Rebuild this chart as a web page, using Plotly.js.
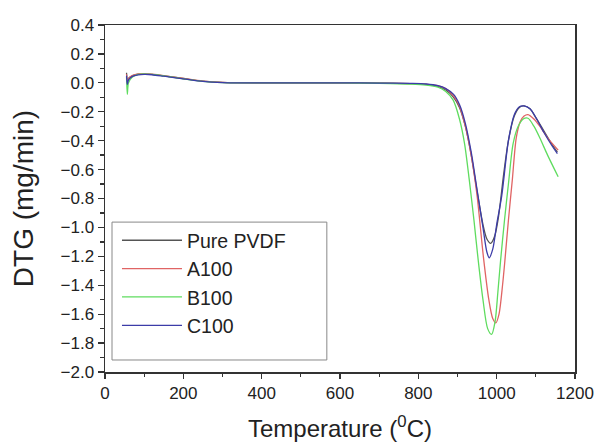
<!DOCTYPE html>
<html>
<head>
<meta charset="utf-8">
<script src="https://cdn.plot.ly/plotly-3.0.1.min.js"></script>
<style>html,body{margin:0;padding:0;background:#fff;}#chart{width:598px;height:445px;}</style>
</head>
<body>
<div id="chart"></div>
<script>
// Pure PVDF
const xPure = [55,57,60,70,85,100,120,150,200,250,300,400,500,600,700,780,820,850,870,890,905,920,935,950,965,975,985,995,1005,1017,1030,1045,1058,1070,1085,1100,1120,1140,1155];
const yPure = [0.07,0.01,0.03,0.05,0.06,0.062,0.058,0.048,0.03,0.012,0.003,0.0,0.0,0.0,-0.002,-0.005,-0.01,-0.025,-0.05,-0.1,-0.17,-0.3,-0.5,-0.75,-0.98,-1.08,-1.11,-1.06,-0.92,-0.65,-0.40,-0.23,-0.17,-0.16,-0.18,-0.24,-0.33,-0.42,-0.48];
// A100
const xA = [55,57,60,70,85,100,120,150,200,250,300,400,500,600,700,780,820,850,870,890,905,920,935,950,966,980,990,998,1006,1015,1021,1030,1040,1050,1060,1070,1080,1095,1110,1130,1157];
const yA = [0.06,0.0,0.03,0.05,0.062,0.064,0.06,0.05,0.03,0.012,0.003,0.0,0.0,0.0,-0.002,-0.005,-0.01,-0.02,-0.04,-0.09,-0.16,-0.3,-0.5,-0.78,-1.2,-1.5,-1.63,-1.66,-1.6,-1.4,-1.23,-0.95,-0.67,-0.38,-0.27,-0.23,-0.22,-0.25,-0.3,-0.38,-0.465];
// B100
const xB = [55,57,60,70,85,100,120,150,200,250,300,400,500,600,700,780,820,850,870,889,905,918,930,942,953,965,977,987,996,1003,1010,1020,1030,1042,1055,1068,1080,1095,1110,1130,1157];
const yB = [0.04,-0.08,0.0,0.04,0.058,0.062,0.058,0.048,0.028,0.01,0.002,0.0,0.0,0.0,-0.003,-0.008,-0.015,-0.03,-0.06,-0.12,-0.25,-0.42,-0.67,-0.95,-1.23,-1.5,-1.7,-1.74,-1.65,-1.45,-1.23,-0.95,-0.7,-0.42,-0.3,-0.25,-0.245,-0.3,-0.38,-0.5,-0.65];
// C100
const xC = [55,57,60,70,85,100,120,150,200,250,300,400,500,600,700,780,820,850,870,890,905,920,935,950,965,975,981,990,1000,1013,1030,1045,1058,1070,1085,1100,1120,1140,1155];
const yC = [0.05,-0.01,0.02,0.045,0.055,0.058,0.056,0.046,0.028,0.01,0.002,0.0,0.0,0.0,-0.002,-0.004,-0.008,-0.02,-0.04,-0.08,-0.15,-0.28,-0.48,-0.74,-1.0,-1.17,-1.21,-1.15,-0.98,-0.78,-0.40,-0.22,-0.165,-0.16,-0.18,-0.24,-0.34,-0.43,-0.49];

const names = ['Pure PVDF','A100','B100','C100'];
const colors = ['#555555','#e06464','#5fdc5f','#3c3ca8'];
const xs = [xPure, xA, xB, xC];
const ys = [yPure, yA, yB, yC];

const FONT = 'Liberation Sans, Arial, sans-serif';
const traces = names.map((n,i)=>({
  x: xs[i], y: ys[i], name: n, type: 'scatter', mode: 'lines',
  line: {color: colors[i], width: 1.3, shape: 'spline', smoothing: 0.8}
}));

const axisCommon = {
  showline: true, linecolor: '#333', linewidth: 1.5, mirror: true,
  showgrid: false, zeroline: false,
  ticks: 'outside', ticklen: 6, tickwidth: 1.3, tickcolor: '#333',
  tickfont: {family: FONT, size: 17, color: '#222'}
};

const layout = {
  width: 598, height: 445,
  margin: {l: 105, r: 23, t: 25, b: 73},
  paper_bgcolor: '#fff', plot_bgcolor: '#fff',
  showlegend: true,
  legend: {
    x: 0.0255, y: 0.435, xanchor: 'left', yanchor: 'top',
    borderwidth: 0, bgcolor: 'rgba(0,0,0,0)',
    font: {family: FONT, size: 19.5, color: '#222'},
    itemwidth: 60
  },
  shapes: [{
    type: 'rect', xref: 'paper', yref: 'paper',
    x0: 0.0149, x1: 0.472, y0: 0.0346, y1: 0.432,
    line: {color: '#888', width: 1}, fillcolor: 'rgba(0,0,0,0)', layer: 'above'
  }],
  xaxis: Object.assign({}, axisCommon, {
    range: [0, 1200], dtick: 200, tick0: 0,
    ticklen: 5,
    minor: {ticks: 'outside', ticklen: 3, dtick: 100, tickcolor: '#333'},
    title: {text: 'Temperature (<sup>0</sup>C)', font: {family: FONT, size: 24, color: '#222'}, standoff: 18}
  }),
  yaxis: Object.assign({}, axisCommon, {
    range: [-2.0, 0.4], dtick: 0.2, tick0: 0, tickformat: '.1f',
    minor: {ticks: 'outside', ticklen: 4, dtick: 0.1, tickcolor: '#333'},
    title: {text: 'DTG (mg/min)', font: {family: FONT, size: 28, color: '#222'}, standoff: 18}
  })
};

Plotly.newPlot('chart', traces, layout, {staticPlot: true, displayModeBar: false});
</script>
</body>
</html>
